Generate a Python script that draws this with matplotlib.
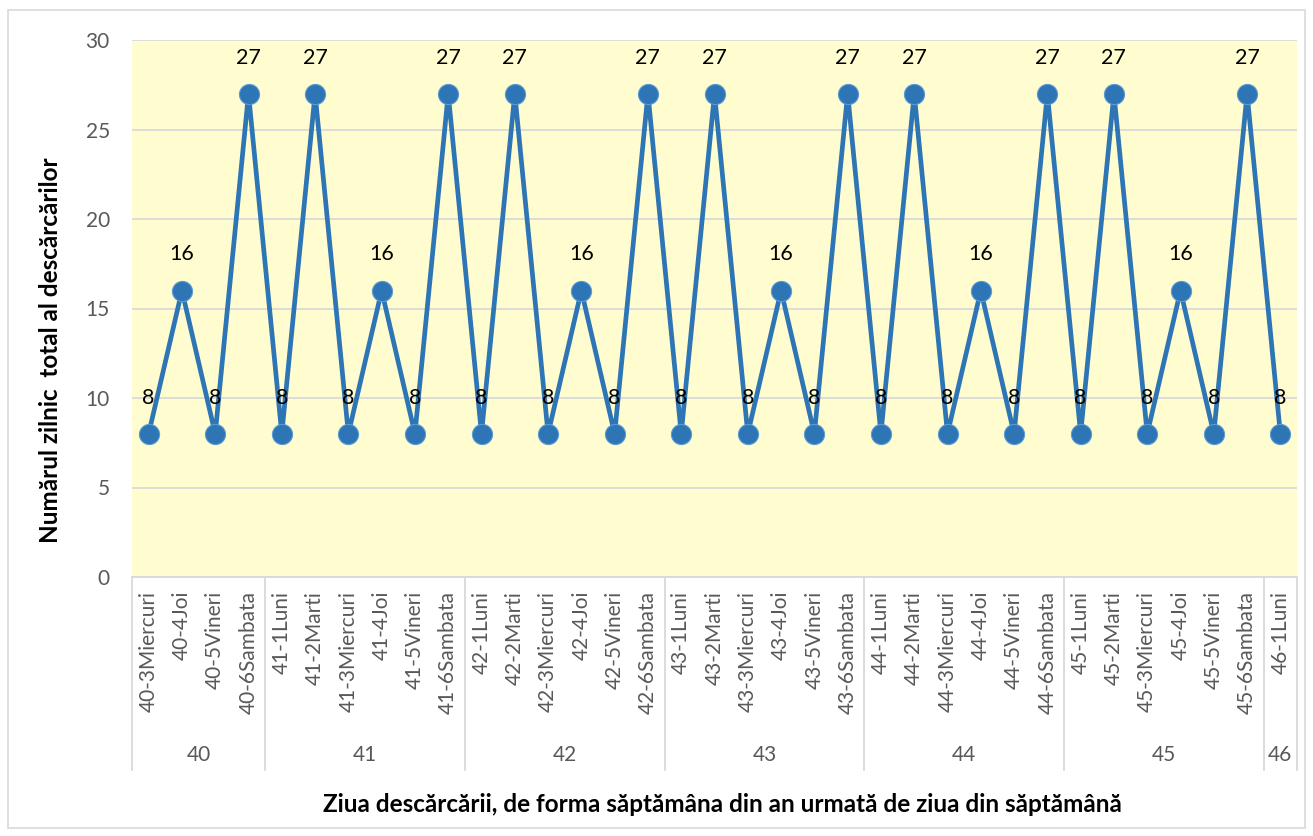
import numpy as np
import matplotlib.pyplot as plt
from matplotlib.patches import Rectangle

plt.rcParams['font.family'] = ['Lato', 'DejaVu Sans']

# categories: week number + weekday
weeks = ['40', '41', '42', '43', '44', '45', '46']
week_days = [
    ['3Miercuri', '4Joi', '5Vineri', '6Sambata'],
    ['1Luni', '2Marti', '3Miercuri', '4Joi', '5Vineri', '6Sambata'],
    ['1Luni', '2Marti', '3Miercuri', '4Joi', '5Vineri', '6Sambata'],
    ['1Luni', '2Marti', '3Miercuri', '4Joi', '5Vineri', '6Sambata'],
    ['1Luni', '2Marti', '3Miercuri', '4Joi', '5Vineri', '6Sambata'],
    ['1Luni', '2Marti', '3Miercuri', '4Joi', '5Vineri', '6Sambata'],
    ['1Luni'],
]
values = [8, 16, 8, 27,
          8, 27, 8, 16, 8, 27,
          8, 27, 8, 16, 8, 27,
          8, 27, 8, 16, 8, 27,
          8, 27, 8, 16, 8, 27,
          8, 27, 8, 16, 8, 27,
          8]

labels = []
for w, days in zip(weeks, week_days):
    for d in days:
        labels.append(f'{w}-{d}')
x = np.arange(len(labels))

W, H = 1313, 836
fig = plt.figure(figsize=(W / 100, H / 100), dpi=100)
fig.patches.append(Rectangle((8 / W, 8 / H), 1297 / W, 818 / H, transform=fig.transFigure,
                             fill=False, edgecolor='#d9d9d9', linewidth=1.2))

ax = fig.add_axes([132 / W, 1 - 577 / H, 1165 / W, 537 / H])
ax.set_facecolor('#FFFDD0')
ax.plot(x, values, color='#2E75B6', linewidth=3.4, marker='o', markersize=14.5,
        markerfacecolor='#2E75B6', markeredgecolor='#5B9BD5', markeredgewidth=0.8, zorder=3)

for xi, v in zip(x, values):
    ax.annotate(str(v), (xi, v), xytext=(0, 26), textcoords='offset points',
                ha='center', va='center', fontsize=15.5, color='black', zorder=4)

ax.set_xlim(-0.5, len(labels) - 0.5)
ax.set_ylim(0, 30)
ax.set_yticks(np.arange(0, 31, 5))
ax.grid(axis='y', color='#d9d9d9', linewidth=1.3)
ax.set_axisbelow(True)
for s in ['top', 'right', 'left']:
    ax.spines[s].set_visible(False)
ax.spines['bottom'].set_color('#d9d9d9')
ax.spines['bottom'].set_linewidth(1.3)

ax.set_xticks(x)
ax.set_xticklabels(labels, rotation=90, fontsize=15, color='#595959')
ax.tick_params(axis='x', length=0, pad=10)
ax.tick_params(axis='y', length=0, pad=16, labelsize=15, labelcolor='#595959')

# second level of the category axis: week groups
trans = ax.get_xaxis_transform()
y_low = -193 / 537
start = 0
bounds = [-0.5]
for w, days in zip(weeks, week_days):
    end = start + len(days)
    bounds.append(end - 0.5)
    ax.text((start + end - 1) / 2, -178 / 537, w, transform=trans, ha='center', va='center',
            fontsize=15, color='#595959')
    start = end
for b in bounds:
    ax.plot([b, b], [0, y_low], transform=trans, color='#d9d9d9', linewidth=1.3, clip_on=False)

ax.set_ylabel('Numărul zilnic  total al descărcărilor', fontsize=17.5, fontweight='bold')
ax.yaxis.set_label_coords(-70 / 1165, (577 - 350) / 537)
fig.text(722 / W, 1 - 805 / H,
         'Ziua descărcării, de forma săptămâna din an urmată de ziua din săptămână',
         ha='center', va='center', fontsize=17.5, fontweight='bold')

fig.savefig('out.png', dpi=100)
